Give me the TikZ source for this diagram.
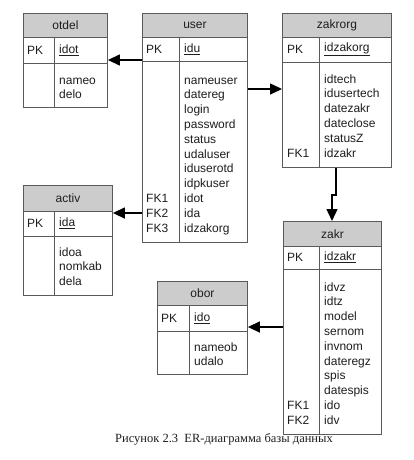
\documentclass[tikz,border=0pt]{standalone}
\usepackage{fontspec}
\setmainfont{Liberation Sans}
\newfontfamily\capfont{Liberation Serif}
\usetikzlibrary{arrows.meta}
\definecolor{hdrgray}{RGB}{204,204,204}
\definecolor{bordgray}{RGB}{90,90,90}
\definecolor{txtcol}{RGB}{30,30,30}
\tikzset{
  x=1pt,y=-1pt,
  hdr/.style={draw=bordgray,fill=hdrgray,line width=0.9pt,inner sep=0pt,anchor=north west,
    font=\fontsize{12}{14.8}\selectfont,text=txtcol},
  row/.style={draw=bordgray,fill=white,line width=0.9pt,inner sep=0pt,anchor=north west},
  divl/.style={draw=bordgray,line width=0.9pt},
  txt/.style={inner sep=0pt,font=\fontsize{12}{14.8}\selectfont,text=txtcol},
  lines/.style={txt,align=left,anchor=north west},
  arr/.style={draw=black,line width=1.4pt,-{Triangle[length=12pt,width=11pt]}}
}
\begin{document}
\begin{tikzpicture}
\useasboundingbox[fill=white] (0,0) rectangle (413,460);

% otdel
\node[hdr,minimum width=84pt,minimum height=24pt] (otdel) at (23,13) {otdel};
\node[row,minimum width=84pt,minimum height=26pt] (otdel-pk) at (23,37) {};
\node[row,minimum width=84pt,minimum height=44pt] (otdel-body) at (23,63) {};
\draw[divl] (54,37) -- (54,107);
\node[txt,anchor=west] (otdel-pkk) at (27,50) {PK};
\node[txt,anchor=west] (otdel-pkf) at (59,50) {\underline{idot}};
\node[lines] (otdel-f) at (59,73.6) {\strut nameo\\\strut delo};

% user
\node[hdr,minimum width=105pt,minimum height=24pt] (user) at (142,13) {user};
\node[row,minimum width=105pt,minimum height=24pt] (user-pk) at (142,37) {};
\node[row,minimum width=105pt,minimum height=181pt] (user-body) at (142,61) {};
\draw[divl] (179,37) -- (179,242);
\node[txt,anchor=west] (user-pkk) at (146,49) {PK};
\node[txt,anchor=west] (user-pkf) at (184,49) {\underline{idu}};
\node[lines] (user-f) at (184,73.6) {\strut nameuser\\\strut datereg\\\strut login\\\strut password\\\strut status\\\strut udaluser\\\strut iduserotd\\\strut idpkuser\\\strut idot\\\strut ida\\\strut idzakorg};
\node[lines] (user-k) at (146,73.6) {\strut\\\strut\\\strut\\\strut\\\strut\\\strut\\\strut\\\strut\\\strut FK1\\\strut FK2\\\strut FK3};

% zakrorg
\node[hdr,minimum width=109pt,minimum height=24pt] (zakrorg) at (282,13) {zakrorg};
\node[row,minimum width=109pt,minimum height=25pt] (zakrorg-pk) at (282,37) {};
\node[row,minimum width=109pt,minimum height=105pt] (zakrorg-body) at (282,62) {};
\draw[divl] (319,37) -- (319,167);
\node[txt,anchor=west] (zakrorg-pkk) at (287,49.5) {PK};
\node[txt,anchor=west] (zakrorg-pkf) at (324,49.5) {\underline{idzakorg}};
\node[lines] (zakrorg-f) at (324,72.6) {\strut idtech\\\strut idusertech\\\strut datezakr\\\strut dateclose\\\strut statusZ\\\strut idzakr};
\node[lines] (zakrorg-k) at (287,72.6) {\strut\\\strut\\\strut\\\strut\\\strut\\\strut FK1};

% activ
\node[hdr,minimum width=89pt,minimum height=26pt] (activ) at (23,185) {activ};
\node[row,minimum width=89pt,minimum height=25pt] (activ-pk) at (23,211) {};
\node[row,minimum width=89pt,minimum height=59pt] (activ-body) at (23,236) {};
\draw[divl] (54,211) -- (54,295);
\node[txt,anchor=west] (activ-pkk) at (27,223.5) {PK};
\node[txt,anchor=west] (activ-pkf) at (59,223.5) {\underline{ida}};
\node[lines] (activ-f) at (59,245.6) {\strut idoa\\\strut nomkab\\\strut dela};

% zakr
\node[hdr,minimum width=98pt,minimum height=25pt] (zakr) at (283,221) {zakr};
\node[row,minimum width=98pt,minimum height=23pt] (zakr-pk) at (283,246) {};
\node[row,minimum width=98pt,minimum height=165pt] (zakr-body) at (283,269) {};
\draw[divl] (319,246) -- (319,434);
\node[txt,anchor=west] (zakr-pkk) at (287,257.5) {PK};
\node[txt,anchor=west] (zakr-pkf) at (324,257.5) {\underline{idzakr}};
\node[lines] (zakr-f) at (324,280.6) {\strut idvz\\\strut idtz\\\strut model\\\strut sernom\\\strut invnom\\\strut dateregz\\\strut spis\\\strut datespis\\\strut ido\\\strut idv};
\node[lines] (zakr-k) at (287,280.6) {\strut\\\strut\\\strut\\\strut\\\strut\\\strut\\\strut\\\strut\\\strut FK1\\\strut FK2};

% obor
\node[hdr,minimum width=90pt,minimum height=24pt] (obor) at (157,281) {obor};
\node[row,minimum width=90pt,minimum height=26pt] (obor-pk) at (157,305) {};
\node[row,minimum width=90pt,minimum height=43pt] (obor-body) at (157,331) {};
\draw[divl] (189,305) -- (189,374);
\node[txt,anchor=west] (obor-pkk) at (161,318) {PK};
\node[txt,anchor=west] (obor-pkf) at (194,318) {\underline{ido}};
\node[lines] (obor-f) at (194,340.6) {\strut nameob\\\strut udalo};

% connectors
\coordinate (a1) at (0,60);
\coordinate (a2) at (0,89);
\coordinate (a3) at (0,213);
\coordinate (a4) at (0,327);
\coordinate (c1) at (336,0);
\coordinate (c3) at (332,195);
\draw[arr] (user-pk.west |- a1) -- (otdel-pk.east |- a1);
\draw[arr] (user-body.east |- a2) -- (zakrorg-body.west |- a2);
\draw[arr] (user-body.west |- a3) -- (activ-pk.east |- a3);
\draw[arr] (zakrorg-body.south -| c1) |- (c3) -- (zakr.north -| c3);
\draw[arr] (zakr-body.west |- a4) -- (obor-pk.east |- a4);

% caption
\node[inner sep=0pt,font=\capfont\fontsize{12.5}{14}\selectfont,text=txtcol] (caption) at (224,439) {Рисунок 2.3\ \ ER-диаграмма базы данных};
\end{tikzpicture}
\end{document}
